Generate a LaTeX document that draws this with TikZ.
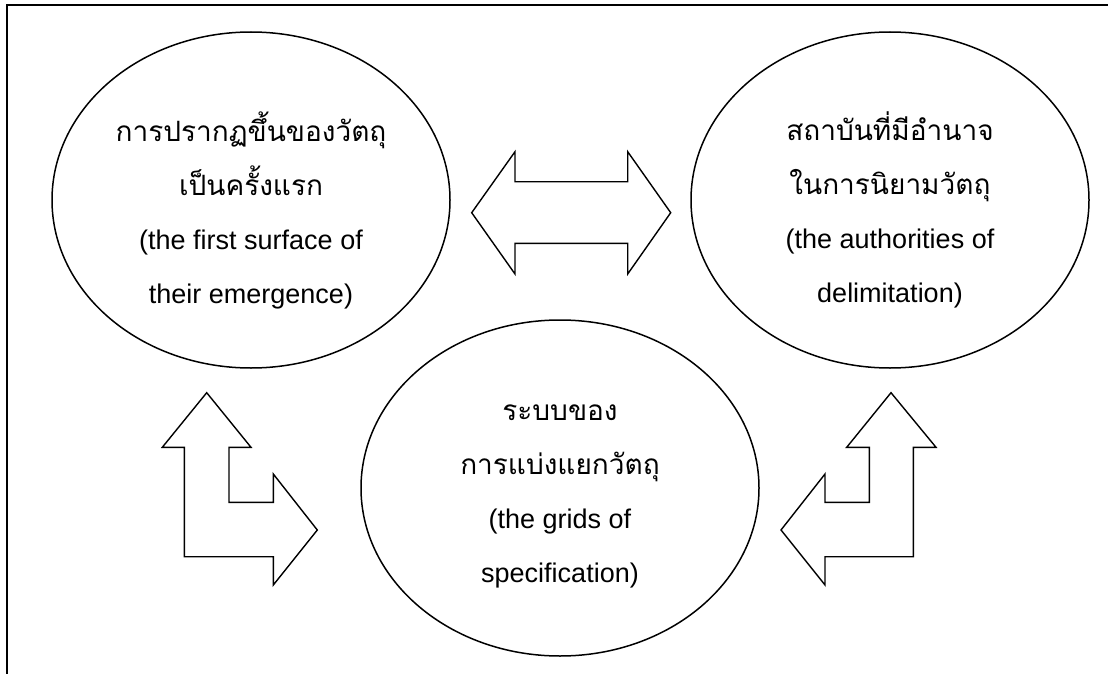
\documentclass[tikz,border=0pt]{standalone}
\usepackage{fontspec}
\setmainfont{Liberation Sans}
\newfontfamily\thaifont[Script=Thai]{Loma}
\usetikzlibrary{shapes.geometric}

\tikzset{
  bubble/.style={draw, ellipse, line width=1.5pt, minimum width=398pt,
    minimum height=336pt, inner sep=0pt},
  bubbletext/.style={align=center, font=\fontsize{27}{54}\selectfont},
  blockarrow/.style={draw, line width=1.4pt, line join=miter},
}

\begin{document}
\begin{tikzpicture}[x=1pt, y=-1pt]
  \useasboundingbox (0,0) rectangle (1108,674);
  % frame
  \draw[line width=2pt] (7,674) -- (7,5) -- (1108,5);

  % the three bubbles
  \node[bubble] (surface) at (251,200) {};
  \node[bubble] (authority) at (890,200) {};
  \node[bubble] (grids) at (560,488) {};

  \node[bubbletext] (surface-txt) at ([yshift=-10pt]surface.center)
    {{\thaifont\fontsize{28}{54}\selectfont การปรากฏขึ้นของวัตถุ}\\{\thaifont\fontsize{28}{54}\selectfont เป็นครั้งแรก}\\(the first surface of\\their emergence)};
  \node[bubbletext] (authority-txt) at ([yshift=-10pt]authority.center)
    {{\thaifont\fontsize{28}{54}\selectfont สถาบันที่มีอำนาจ}\\{\thaifont\fontsize{28}{54}\selectfont ในการนิยามวัตถุ}\\(the authorities of\\delimitation)};
  \node[bubbletext] (grids-txt) at ([yshift=-8pt]grids.center)
    {{\thaifont\fontsize{28}{54}\selectfont ระบบของ}\\{\thaifont\fontsize{28}{54}\selectfont การแบ่งแยกวัตถุ}\\(the grids of\\specification)};

  % double arrow between the top bubbles
  \draw[blockarrow] (471.7,212.7) -- (515,151.7) -- (515,181.7) -- (627.7,181.7)
    -- (627.7,151.7) -- (670.7,212.7) -- (627.7,274) -- (627.7,243.3)
    -- (515,243.3) -- (515,274) -- cycle;

  % left bent arrow
  \draw[blockarrow] (206.7,392.7) -- (251,447.3) -- (229,447.3) -- (229,502.3)
    -- (273.3,502.3) -- (273.3,474) -- (317.3,530) -- (273.3,585)
    -- (273.3,556.7) -- (184.3,556.7) -- (184.3,447.3) -- (162.3,447.3) -- cycle;

  % right bent arrow
  \draw[blockarrow] (891,392.7) -- (936,447.3) -- (913.3,447.3) -- (913.3,556.7)
    -- (825,556.7) -- (825,585) -- (781,530) -- (825,474) -- (825,502.3)
    -- (869.3,502.3) -- (869.3,447.3) -- (846.7,447.3) -- cycle;
\end{tikzpicture}
\end{document}
